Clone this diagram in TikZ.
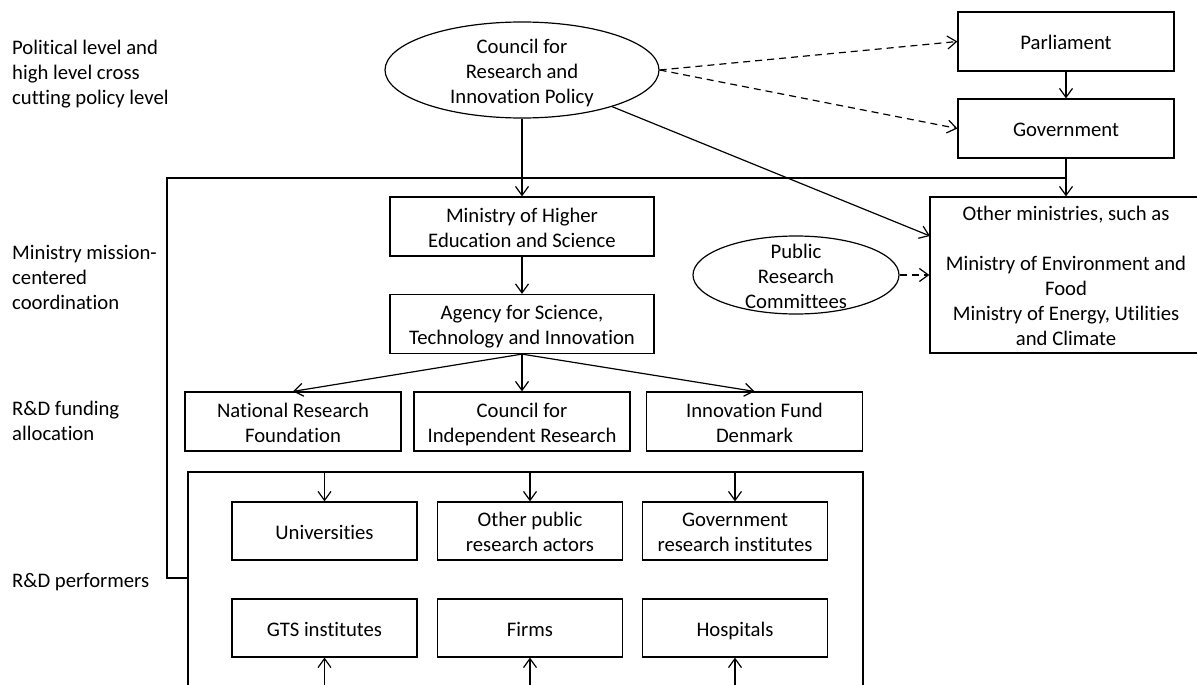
\documentclass[tikz,border=0pt]{standalone}
\usepackage{fontspec}
\setmainfont{Carlito}[Ligatures=NoCommon]
\usetikzlibrary{shapes.geometric,arrows.meta}
\newcommand\ctext[1]{\raisebox{-8.5pt}[0pt][0pt]{\begin{tabular}{@{}c@{}}#1\end{tabular}}}
\newcommand\ltext[1]{\raisebox{-8.5pt}[0pt][0pt]{\begin{tabular}{@{}l@{}}#1\end{tabular}}}
\begin{document}
\begin{tikzpicture}[x=1pt,y=-1pt,
  every node/.style={font=\fontsize{20.7}{25}\selectfont, inner sep=0pt},
  conn/.style={line width=1.2pt},
  arr/.style={conn,-{Straight Barb[length=9pt,width=13pt]}},
  darr/.style={arr,dash pattern=on 7pt off 5pt},
  box/.style={draw,line width=1.2pt},
  bigbox/.style={box,minimum width=264pt,minimum height=59pt},
  fundbox/.style={box,minimum width=216pt,minimum height=59pt},
  perfbox/.style={box,minimum width=185pt,minimum height=58pt},
  oval/.style={draw,ellipse,line width=1.2pt},
  lvl/.style={anchor=west}]
\useasboundingbox (0,0) rectangle (1197,685);
\clip (0,0) rectangle (1197,685);
% level labels
\node[lvl] (l1) at (12,71) {\ltext{Political level and\\high level cross\\cutting policy level}};
\node[lvl] (l2) at (12,276) {\ltext{Ministry mission-\\centered\\coordination}};
\node[lvl] (l3) at (12,420) {\ltext{R\&D funding\\allocation}};
\node[lvl] (l4) at (12,579) {\ltext{R\&D performers}};
% top
\node[oval,minimum width=274pt,minimum height=96pt] (council) at (522,70) {\ctext{Council for\\Research and\\Innovation Policy}};
\node[fundbox] (parl) at (1066,41.5) {\ctext{Parliament}};
\node[fundbox] (gov) at (1066,128.5) {\ctext{Government}};
\node[box,minimum width=272pt,minimum height=156pt] (others) at (1066,275) {\ctext{Other ministries, such as\\ \\Ministry of Environment and\\Food\\Ministry of Energy, Utilities\\and Climate}};
\node[oval,minimum width=206pt,minimum height=78pt] (prc) at (796,275) {\ctext{Public\\Research\\Committees}};
% ministry
\node[bigbox] (mhes) at (522,226.5) {\ctext{Ministry of Higher\\Education and Science}};
\node[bigbox] (agency) at (522,324) {\ctext{Agency for Science,\\Technology and Innovation}};
% funding
\node[fundbox] (nrf) at (293,421.5) {\ctext{National Research\\Foundation}};
\node[fundbox] (cir) at (522,421.5) {\ctext{Council for\\Independent Research}};
\node[fundbox] (ifd) at (754.5,421.5) {\ctext{Innovation Fund\\Denmark}};
% performers
\node[box,minimum width=675pt,minimum height=260pt] (perf) at (525.5,602) {};
\node[perfbox] (univ) at (324.5,531) {\ctext{Universities}};
\node[perfbox] (opra) at (530,531) {\ctext{Other public\\research actors}};
\node[perfbox] (gri) at (735,531) {\ctext{Government\\research institutes}};
\node[perfbox] (gts) at (324.5,628) {\ctext{GTS institutes}};
\node[perfbox] (firms) at (530,628) {\ctext{Firms}};
\node[perfbox] (hosp) at (735,628) {\ctext{Hospitals}};
% coordinates
\coordinate (othin) at (930,236);
\coordinate (brk) at (167,178);
\coordinate (brkb) at (167,578);
\coordinate (bot) at (0,686);
% connectors
\draw[darr] (council.east) -- (parl.west);
\draw[darr] (council.east) -- (gov.west);
\draw[arr] (parl.south) -- (gov.north);
\draw[arr] (gov.south) -- (gov.south |- others.north);
\draw[conn] (brkb -| perf.west) -- (brkb) -- (brk) -- (brk -| gov.south);
\draw[arr] (council) -- (othin);
\draw[darr] (prc.east) -- (others.west);
\draw[arr] (council.south) -- (mhes.north);
\draw[arr] (mhes.south) -- (agency.north);
\draw[arr] (agency.south) -- (nrf.north);
\draw[arr] (agency.south) -- (cir.north);
\draw[arr] (agency.south) -- (ifd.north);
\draw[arr] (perf.north -| univ.north) -- (univ.north);
\draw[arr] (perf.north -| opra.north) -- (opra.north);
\draw[arr] (perf.north -| gri.north) -- (gri.north);
\draw[arr] (bot -| gts.south) -- (gts.south);
\draw[arr] (bot -| firms.south) -- (firms.south);
\draw[arr] (bot -| hosp.south) -- (hosp.south);
\end{tikzpicture}
\end{document}
